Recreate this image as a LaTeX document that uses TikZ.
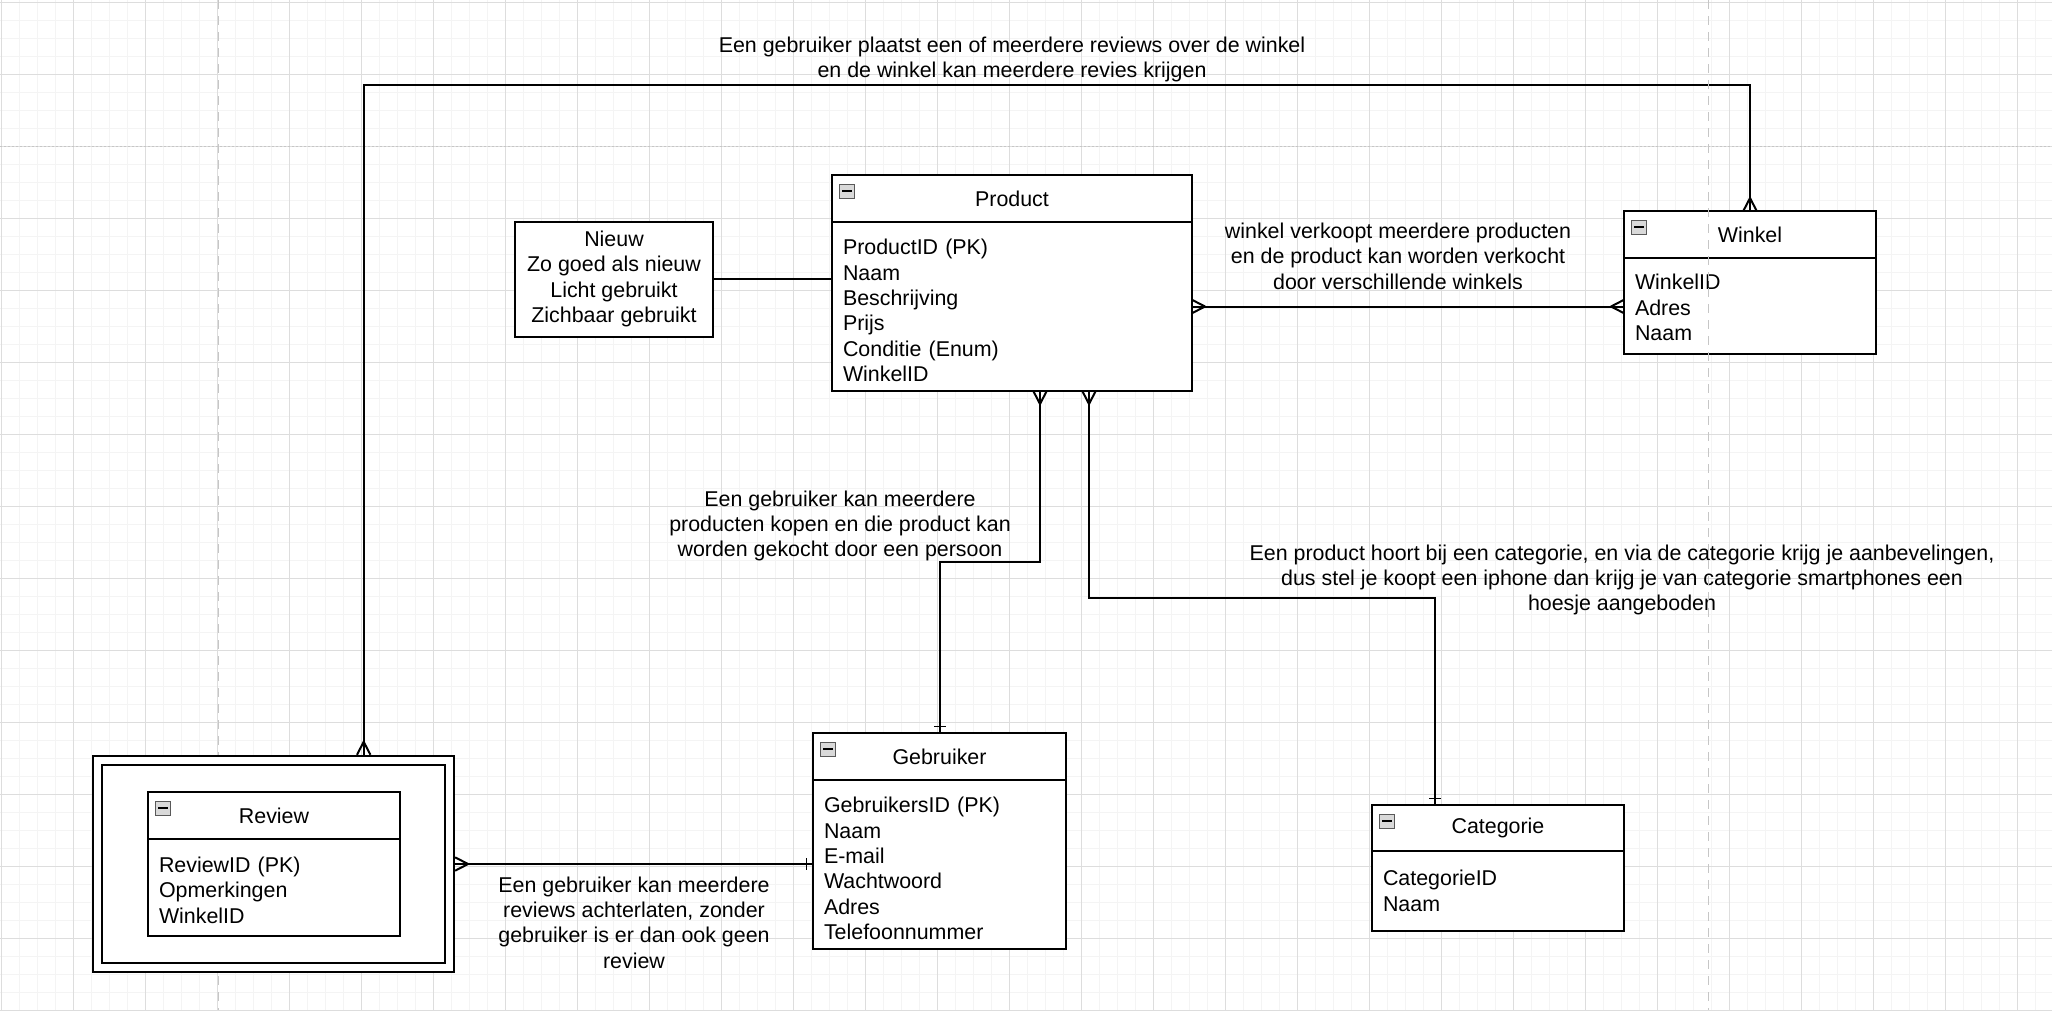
\documentclass[tikz,border=0pt]{standalone}
\usepackage{fontspec}
\setmainfont{Liberation Sans}
\usetikzlibrary{positioning}

% crow's foot (many) and bar (one) ends
\pgfarrowsdeclare{many}{many}{\pgfarrowsleftextend{-14pt}\pgfarrowsrightextend{0pt}}{%
  \pgfsetdash{}{0pt}\pgfsetroundjoin
  \pgfpathmoveto{\pgfpoint{0pt}{6.7pt}}
  \pgfpathlineto{\pgfpoint{-13pt}{0pt}}
  \pgfpathlineto{\pgfpoint{0pt}{-6.7pt}}
  \pgfusepathqstroke}
\pgfarrowsdeclare{one}{one}{\pgfarrowsleftextend{-8pt}\pgfarrowsrightextend{0pt}}{%
  \pgfsetdash{}{0pt}\pgfsetlinewidth{1.4pt}
  \pgfpathmoveto{\pgfpoint{-6.5pt}{6pt}}
  \pgfpathlineto{\pgfpoint{-6.5pt}{-6pt}}
  \pgfusepathqstroke}

\begin{document}
\begin{tikzpicture}[x=1pt, y=-1pt, line width=2pt,
    font=\fontsize{21.4}{25.4}\selectfont,
    tablehead/.style={draw, fill=white, outer sep=0pt, anchor=north west, minimum height=47pt},
    tablebody/.style={draw, fill=white, outer sep=0pt, align=left, inner xsep=11pt, inner ysep=0pt},
    topgap/.style={execute at begin node={\rule{0pt}{#1}}},
    collapse/.style={draw=gray!70!black, fill=gray!30, line width=1pt, minimum width=15pt,
      minimum height=14pt, inner sep=0pt},
    enumbox/.style={draw, fill=white, align=center, minimum width=198pt, minimum height=115pt},
    edgetext/.style={align=center}]
  \useasboundingbox (0,0) rectangle (2052,1010);
  \fill[white] (0,0) rectangle (2052,1010);
  % grid
  \draw[gray!9, line width=1pt, step=18pt, shift={(1.7,2)}] (-20,1030) grid (2070,-20);
  \draw[gray!27, line width=1pt, step=72pt, shift={(1.7,2)}] (-20,1030) grid (2070,-20);
  \draw[gray!45, line width=1pt, dash pattern=on 9pt off 7pt] (218,0) -- (218,1010);
  \draw[gray!45, line width=1pt, dash pattern=on 2pt off 2pt] (0,146.7) -- (2052,146.7);

  % Product
  \node[tablehead, minimum width=360pt] (prodhead) at (832,175) {Product};
  \node[collapse] (prodicon) at ([xshift=15pt,yshift=-16pt]prodhead.north west) {\rule{10pt}{2.4pt}};
  \node[tablebody, topgap=23.6pt, text width=338pt, minimum height=169pt, below=0pt of prodhead] (prodbody)
    {ProductID (PK)\\Naam\\Beschrijving\\Prijs\\Conditie (Enum)\\WinkelID};

  % Winkel
  \node[tablehead, minimum width=252pt] (winkelhead) at (1624,211) {Winkel};
  \node[collapse] (winkelicon) at ([xshift=15pt,yshift=-16pt]winkelhead.north west) {\rule{10pt}{2.4pt}};
  \node[tablebody, topgap=18.6pt, text width=230pt, minimum height=96pt, below=0pt of winkelhead] (winkelbody)
    {WinkelID\\Adres\\Naam};

  % Gebruiker
  \node[tablehead, minimum width=253pt] (gebrhead) at (813,733) {Gebruiker};
  \node[collapse] (gebricon) at ([xshift=15pt,yshift=-16pt]gebrhead.north west) {\rule{10pt}{2.4pt}};
  \node[tablebody, topgap=23.6pt, text width=231pt, minimum height=169pt, below=0pt of gebrhead] (gebrbody)
    {GebruikersID (PK)\\Naam\\E-mail\\Wachtwoord\\Adres\\Telefoonnummer};

  % Categorie
  \node[tablehead, minimum width=252pt, minimum height=46pt] (cathead) at (1372,805) {Categorie};
  \node[collapse] (caticon) at ([xshift=15pt,yshift=-16pt]cathead.north west) {\rule{10pt}{2.4pt}};
  \node[tablebody, text width=230pt, minimum height=80pt, below=0pt of cathead] (catbody)
    {CategorieID\\Naam};

  % Review (weak entity)
  \node[draw, fill=white, double distance=7pt, minimum width=351.8pt, minimum height=207.5pt,
    outer sep=5.5pt] (reviewbox) at (273.7,864) {};
  \node[tablehead, minimum width=252pt] (revhead) at (148,792) {Review};
  \node[collapse] (revicon) at ([xshift=15pt,yshift=-16pt]revhead.north west) {\rule{10pt}{2.4pt}};
  \node[tablebody, topgap=20.6pt, text width=230pt, minimum height=97pt, below=0pt of revhead] (revbody)
    {ReviewID (PK)\\Opmerkingen\\WinkelID};

  % enum values
  \node[enumbox] (conditie) at (614,279)
    {Nieuw\\Zo goed als nieuw\\Licht gebruikt\\Zichbaar gebruikt};

  % relations
  \coordinate (revtop) at ([xshift=90pt]reviewbox.north);
  \draw[many-many] (revtop) -- (revtop |- 0,85) -| (winkelhead.north);
  \draw[many-many] (prodbody.east) -- (prodbody.east -| winkelbody.west);
  \draw (conditie.east) -- (conditie.east -| prodbody.west);
  \draw[many-one] ([xshift=28pt]prodbody.south) -- ++(0,171) -| (gebrhead.north);
  \draw[many-one] ([xshift=77pt]prodbody.south) -- ++(0,207) -| ([xshift=-63pt]cathead.north);
  \draw[many-one] (reviewbox.east) -- (reviewbox.east -| gebrbody.west);

  \node[edgetext] (winkelnote) at (1012,59.5)
    {Een gebruiker plaatst een of meerdere reviews over de winkel\\en de winkel kan meerdere revies krijgen};
  \node[edgetext] (verkoopnote) at (1398,256)
    {winkel verkoopt meerdere producten\\en de product kan worden verkocht\\door verschillende winkels};
  \node[edgetext] (koopnote) at (840,526)
    {Een gebruiker kan meerdere\\producten kopen en die product kan\\worden gekocht door een persoon};
  \node[edgetext] (catnote) at (1622,580)
    {Een product hoort bij een categorie, en via de categorie krijg je aanbevelingen,\\dus stel je koopt een iphone dan krijg je van categorie smartphones een\\hoesje aangeboden};
  \node[edgetext] (reviewnote) at (634,922.5)
    {Een gebruiker kan meerdere\\reviews achterlaten, zonder\\gebruiker is er dan ook geen\\review};

  \draw[gray!45, line width=1pt, dash pattern=on 9pt off 7pt] (1708,0) -- (1708,1010);
\end{tikzpicture}
\end{document}
